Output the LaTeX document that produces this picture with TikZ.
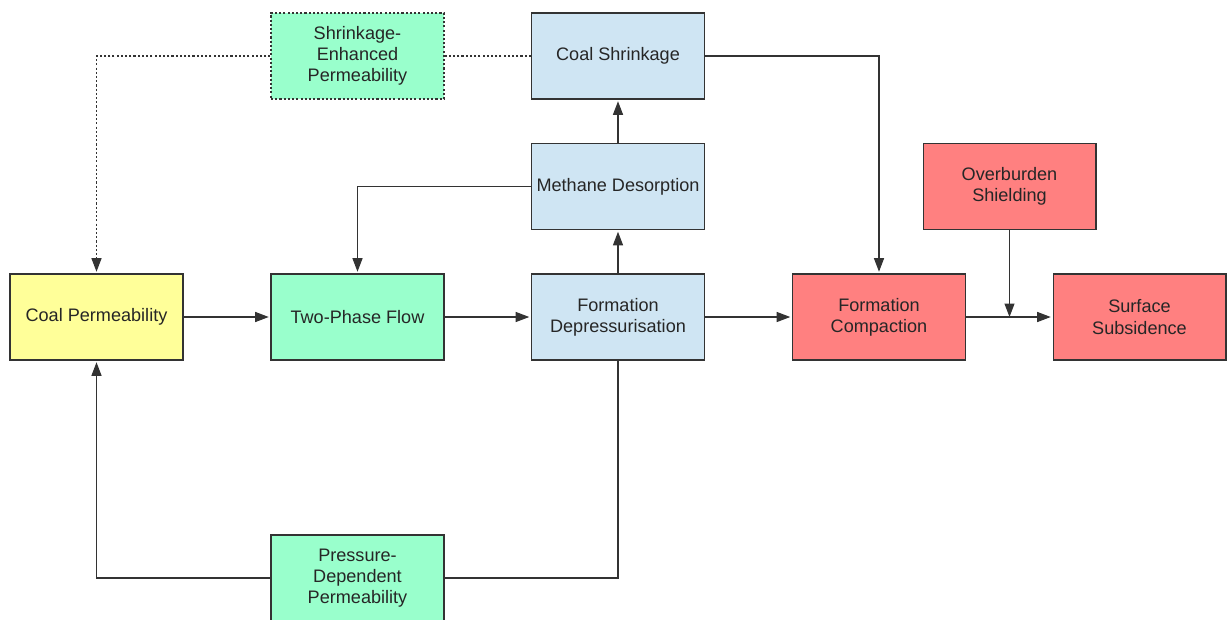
\documentclass[tikz,border=0pt]{standalone}
\usepackage{fontspec}
\setmainfont{Liberation Sans}
\usetikzlibrary{arrows.meta,positioning,calc}
\definecolor{lemon}{RGB}{255,255,153}
\definecolor{mint}{RGB}{153,255,204}
\definecolor{sky}{RGB}{207,229,243}
\definecolor{salmon}{RGB}{255,128,128}
\definecolor{ink}{RGB}{51,51,51}
\tikzset{
  blk/.style={draw=ink,line width=0.6pt,minimum width=3.46cm,minimum height=1.72cm,
    align=center,text=black!85,font=\fontsize{10.3}{12}\selectfont,inner sep=2pt},
  link/.style={draw=ink,line width=0.6pt,-{Triangle[length=2.7mm,width=2mm]},shorten >=1pt},
  dots/.style={dash pattern=on 1.2pt off 1.2pt}
}
\begin{document}
\begin{tikzpicture}[x=0.02cm,y=-0.02cm]
        \useasboundingbox (0,0) rectangle (1227,619);
        % main chain
        \node[blk,fill=lemon] (cperm) at (96.5,317) {Coal Permeability};
        \node[blk,fill=mint] (flow) at (357.5,317) {Two-Phase Flow};
        \node[blk,fill=sky] (depress) at (618,317) {Formation\\Depressurisation};
        \node[blk,fill=salmon] (compact) at (879,317) {Formation\\Compaction};
        \node[blk,fill=salmon] (subs) at (1139.5,317) {Surface\\Subsidence};
        % upper branch
        \node[blk,fill=sky] (desorb) at (618,186.5) {Methane Desorption};
        \node[blk,fill=sky] (shrink) at (618,56) {Coal Shrinkage};
        \node[blk,fill=mint,dots] (sep) at (357.5,56) {Shrinkage-\\Enhanced\\Permeability};
        \node[blk,fill=salmon] (shield) at (1009.5,186.5) {Overburden\\Shielding};
        % lower branch
        \node[blk,fill=mint] (pdp) at (357.5,578) {Pressure-\\Dependent\\Permeability};
        \coordinate (j) at (shield.south |- compact.east);
        \draw[link] (cperm) -- (flow);
        \draw[link] (flow) -- (depress);
        \draw[link] (depress) -- (compact);
        \draw[link] (compact) -- (subs);
        \draw[link,shorten >=0pt] (shield) -- (j);
        \draw[link] (depress) -- (desorb);
        \draw[link] (desorb) -- (shrink);
        \draw[link] (desorb.west) -| (flow.north);
        \draw[link] (shrink.east) -| (compact.north);
        \draw[draw=ink,line width=0.6pt,dots] (shrink.west) -- (sep.east);
        \draw[link,dots] (sep.west) -| (cperm.north);
        \draw[draw=ink,line width=0.6pt] (depress.south) |- (pdp.east);
        \draw[link] (pdp.west) -| (cperm.south);
      \end{tikzpicture}
\end{document}
